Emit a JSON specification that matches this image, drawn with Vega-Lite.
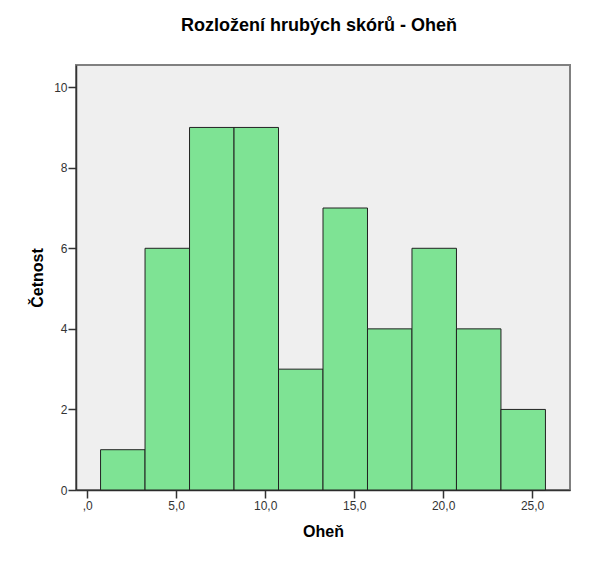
{
  "$schema": "https://vega.github.io/schema/vega-lite/v6.json",
  "width": 494,
  "height": 425,
  "autosize": {"type": "none"},
  "padding": {"left": 76, "top": 65, "right": 44, "bottom": 78},
  "background": "white",
  "title": {
    "text": "Rozložení hrubých skórů - Oheň",
    "font": "Liberation Sans",
    "fontSize": 18,
    "fontWeight": "bold",
    "color": "#000000",
    "anchor": "middle",
    "dx": -4,
    "offset": 30
  },
  "data": {
    "values": [
      {"start": 0.75, "end": 3.25, "count": 1},
      {"start": 3.25, "end": 5.75, "count": 6},
      {"start": 5.75, "end": 8.25, "count": 9},
      {"start": 8.25, "end": 10.75, "count": 9},
      {"start": 10.75, "end": 13.25, "count": 3},
      {"start": 13.25, "end": 15.75, "count": 7},
      {"start": 15.75, "end": 18.25, "count": 4},
      {"start": 18.25, "end": 20.75, "count": 6},
      {"start": 20.75, "end": 23.25, "count": 4},
      {"start": 23.25, "end": 25.75, "count": 2}
    ]
  },
  "mark": {"type": "rect", "fill": "#7ee394", "stroke": "#222222", "strokeWidth": 1},
  "encoding": {
    "x": {
      "field": "start",
      "type": "quantitative",
      "scale": {"domain": [-0.63, 27.13], "nice": false, "zero": false},
      "axis": {
        "title": "Oheň",
        "values": [0, 5, 10, 15, 20, 25],
        "labelExpr": "datum.value === 0 ? ',0' : replace(format(datum.value, '.1f'), '.', ',')",
        "titlePadding": 12
      }
    },
    "x2": {"field": "end"},
    "y": {
      "field": "count",
      "type": "quantitative",
      "scale": {"domain": [0, 10.55], "nice": false},
      "axis": {
        "title": "Četnost",
        "values": [0, 2, 4, 6, 8, 10],
        "format": "d",
        "titlePadding": 8,
        "labelPadding": 1
      }
    },
    "y2": {"datum": 0}
  },
  "config": {
    "view": {"fill": "#efefef", "stroke": "#808080", "strokeWidth": 2},
    "axis": {
      "grid": false,
      "domainColor": "#333333",
      "domainWidth": 1.5,
      "tickColor": "#333333",
      "tickWidth": 1.5,
      "tickSize": 8,
      "labelPadding": 2,
      "labelFont": "Liberation Sans",
      "labelFontSize": 12,
      "labelColor": "#333333",
      "titleFont": "Liberation Sans",
      "titleFontSize": 16,
      "titleFontWeight": "bold",
      "titleColor": "#000000"
    }
  }
}
